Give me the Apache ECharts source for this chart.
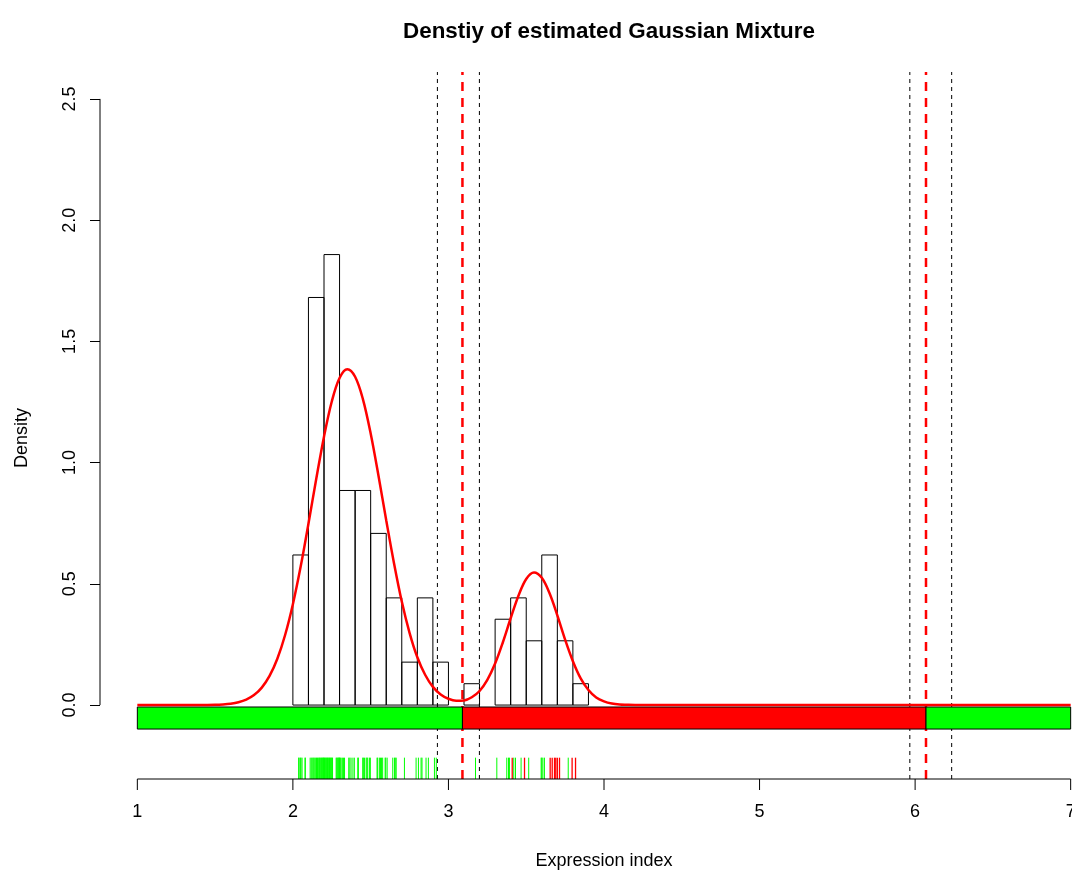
<!DOCTYPE html>
<html>
<head>
<meta charset="utf-8">
<script src="https://cdn.jsdelivr.net/npm/echarts@6/dist/echarts.min.js"></script>
<style>
html,body{margin:0;padding:0;background:#fff;}
#c{width:1072px;height:871px;}
</style>
</head>
<body>
<div id="c"></div>
<script>
// ---------- data ----------
var xTicks = [1, 2, 3, 4, 5, 6, 7];
var yTicks = [0, 0.5, 1, 1.5, 2, 2.5];

// histogram bins (left edge, right edge) and density heights
var binStart = [2.0,2.1,2.2,2.3,2.4,2.5,2.6,2.7,2.8,2.9,3.0,3.1,3.2,3.3,3.4,3.5,3.6,3.7,3.8];
var binEnd   = [2.1,2.2,2.3,2.4,2.5,2.6,2.7,2.8,2.9,3.0,3.1,3.2,3.3,3.4,3.5,3.6,3.7,3.8,3.9];
var binDensity = [0.619,1.681,1.858,0.885,0.885,0.708,0.442,0.177,0.442,0.177,0,0.088,0,0.354,0.442,0.265,0.619,0.265,0.088];

// estimated mixture density curve (x, density)
var curveX = [1.0,1.4,1.5,1.55,1.6,1.65,1.7,1.75,1.8,1.85,1.9,1.95,2.0,2.05,2.1,2.15,2.2,2.25,2.3,2.35,2.4,2.45,2.5,2.55,2.6,2.65,2.7,2.75,2.8,2.85,2.9,2.95,3.0,3.05,3.1,3.15,3.2,3.25,3.3,3.35,3.4,3.45,3.5,3.55,3.6,3.65,3.7,3.75,3.8,3.85,3.9,3.95,4.0,4.05,4.1,4.15,4.2,4.3,7.0];
var curveY = [0,0.0003,0.0012,0.0027,0.0057,0.0116,0.0223,0.041,0.072,0.120,0.191,0.289,0.416,0.571,0.748,0.932,1.107,1.252,1.349,1.385,1.354,1.262,1.120,0.947,0.762,0.585,0.427,0.298,0.197,0.125,0.075,0.044,0.026,0.018,0.019,0.032,0.058,0.104,0.171,0.259,0.358,0.451,0.520,0.547,0.525,0.461,0.370,0.270,0.181,0.110,0.062,0.031,0.015,0.006,0.002,0.001,0.0003,0,0];

// classification band
var bandStart = [1, 3.09, 6.07];
var bandEnd   = [3.09, 6.07, 7];
var bandColor = ['#00FF00', '#FF0000', '#00FF00'];

// vertical reference lines
var blackDashX = [2.929, 3.199, 5.966, 6.235];
var redDashX = [3.09, 6.07];

// rug of observations
var rugGreen = [2.037,2.040,2.048,2.052,2.059,2.078,2.080,
  2.111,2.118,2.124,2.130,2.135,2.141,2.147,2.152,2.158,2.163,2.168,2.172,2.176,2.181,2.185,2.189,2.193,2.196,2.199,
  2.203,2.207,2.211,2.215,2.219,2.223,2.227,2.231,2.235,2.239,2.243,2.247,2.251,2.255,2.278,2.282,2.288,2.291,2.295,2.298,2.300,
  2.305,2.310,2.318,2.325,2.332,2.359,2.366,2.374,2.386,2.395,
  2.417,2.421,2.449,2.453,2.460,2.471,2.476,2.481,2.492,2.498,
  2.541,2.545,2.556,2.563,2.570,2.577,2.593,2.597,
  2.606,2.642,2.653,2.658,2.664,
  2.717,2.792,
  2.807,2.824,2.830,2.856,2.871,
  2.910,2.922,
  3.174,
  3.311,3.375,3.386,3.392,
  3.42,3.431,3.467,
  3.516,3.596,3.600,
  3.607,3.617,
  3.770];
var rugRed = [3.410,3.489,3.654,3.667,3.682,3.690,3.700,3.714,3.795,3.817];

// ---------- chart ----------
var FONT = 'Liberation Sans, Arial, Helvetica, sans-serif';
var Y_BOTTOM = -0.305, Y_TOP = 2.611;
var RUG_TOP = -0.217;
var BAND_LOW = -0.099, BAND_HIGH = -0.008;
var X_TICK_LEN = 11;

var histData = binStart.map(function (s, i) { return [s, binEnd[i], binDensity[i]]; });
var curveData = curveX.map(function (x, i) { return [x, curveY[i]]; });
var bandData = bandStart.map(function (s, i) { return [s, bandEnd[i], i]; });

function vlineSeries(xs, y0, y1, color, width, dash, z) {
  return {
    type: 'custom', z: z, silent: true,
    data: xs.map(function (x) { return [x, y0]; }),
    encode: { x: 0, y: 1 },
    renderItem: function (params, api) {
      var a = api.coord([api.value(0), y0]);
      var b = api.coord([api.value(0), y1]);
      return { type: 'line', shape: { x1: a[0], y1: a[1], x2: b[0], y2: b[1] },
        style: { stroke: color, lineWidth: width, lineDash: dash } };
    }
  };
}

var chart = echarts.init(document.getElementById('c'), null, { renderer: 'canvas', width: 1072, height: 871 });
chart.setOption({
  animation: false,
  backgroundColor: '#ffffff',
  title: {
    text: 'Denstiy of estimated Gaussian Mixture',
    left: 604, top: 16, textAlign: 'center',
    textStyle: { fontFamily: FONT, fontWeight: 'bold', fontSize: 22.4, color: '#000' }
  },
  grid: { left: 100, right: -36, top: 72, bottom: 92, containLabel: false, outerBoundsMode: 'none' },
  xAxis: {
    type: 'value', min: 0.76, max: 7.24,
    axisLine: { show: false }, splitLine: { show: false },
    axisTick: { show: false },
    axisLabel: { customValues: xTicks, margin: 24, fontSize: 18, color: '#000', fontFamily: FONT },
    name: 'Expression index', nameLocation: 'middle', nameGap: 73,
    nameTextStyle: { fontSize: 18, color: '#000', fontFamily: FONT }
  },
  yAxis: {
    type: 'value', min: Y_BOTTOM, max: Y_TOP,
    axisLine: { show: false }, splitLine: { show: false },
    axisTick: { show: true, length: 10, customValues: yTicks, lineStyle: { color: '#000', width: 1 } },
    axisLabel: { customValues: yTicks, rotate: 90, margin: 21, fontSize: 18, color: '#000', fontFamily: FONT,
      formatter: function (v) { return Number(v).toFixed(1); } }
  },
  graphic: [{
    type: 'text', x: 22, y: 438, rotation: Math.PI / 2,
    style: { text: 'Density', fontSize: 18, fontFamily: FONT, fill: '#000', align: 'center', verticalAlign: 'middle' }
  }],
  series: [
    // axis lines (span only the tick range, as in the reference)
    { type: 'line', data: [[1, Y_BOTTOM], [7, Y_BOTTOM]], symbol: 'none', clip: false, silent: true,
      lineStyle: { color: '#000', width: 1 }, z: 6 },
    { type: 'line', data: [[0.76, 0], [0.76, 2.5]], symbol: 'none', clip: false, silent: true,
      lineStyle: { color: '#000', width: 1 }, z: 6 },
    // x-axis ticks
    {
      type: 'custom', z: 6, silent: true,
      data: xTicks.map(function (x) { return [x, Y_BOTTOM]; }), encode: { x: 0, y: 1 },
      renderItem: function (params, api) {
        var a = api.coord([api.value(0), Y_BOTTOM]);
        return { type: 'line', shape: { x1: a[0], y1: a[1], x2: a[0], y2: a[1] + X_TICK_LEN },
          style: { stroke: '#000', lineWidth: 1 } };
      }
    },
    vlineSeries(blackDashX, Y_BOTTOM, Y_TOP, '#000', 1, [4, 4], 1),
    vlineSeries(redDashX, Y_BOTTOM, Y_TOP, '#FF0000', 2.5, [9, 7], 1),
    // histogram
    {
      type: 'custom', z: 2, silent: true, data: histData, encode: { x: [0, 1], y: 2 },
      renderItem: function (params, api) {
        var h = api.value(2);
        if (!h) return null;
        var a = api.coord([api.value(0), h]);
        var b = api.coord([api.value(1), 0]);
        return { type: 'rect', shape: { x: a[0], y: a[1], width: b[0] - a[0], height: b[1] - a[1] },
          style: { fill: 'none', stroke: '#000', lineWidth: 1 } };
      }
    },
    // classification band
    {
      type: 'custom', z: 3, silent: true, data: bandData, encode: { x: [0, 1] },
      renderItem: function (params, api) {
        var a = api.coord([api.value(0), BAND_HIGH]);
        var b = api.coord([api.value(1), BAND_LOW]);
        return { type: 'rect', shape: { x: a[0], y: a[1], width: b[0] - a[0], height: b[1] - a[1] },
          style: { fill: bandColor[api.value(2)], stroke: '#000', lineWidth: 1 } };
      }
    },
    // rug
    vlineSeries(rugGreen, Y_BOTTOM, RUG_TOP, '#00FF00', 1, null, 4),
    vlineSeries(rugRed, Y_BOTTOM, RUG_TOP, '#FF0000', 1.3, null, 5),
    // mixture density curve
    { type: 'line', data: curveData, symbol: 'none', smooth: 0.35, clip: false, silent: true,
      lineStyle: { color: '#FF0000', width: 2.5 }, z: 7 }
  ]
});
</script>
</body>
</html>
